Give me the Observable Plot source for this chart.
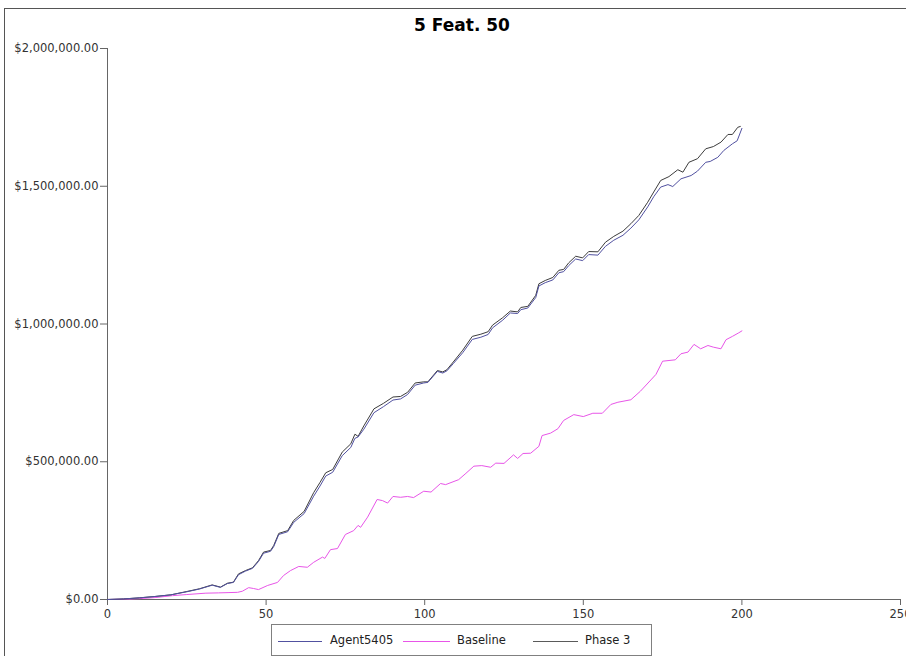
<!DOCTYPE html>
<html>
<head>
<meta charset="utf-8">
<script src="https://cdn.jsdelivr.net/npm/d3@7"></script>
<script src="https://cdn.jsdelivr.net/npm/@observablehq/plot@0.6"></script>
<style>
  html, body { margin: 0; padding: 0; background: #fff; }
  #wrap { position: relative; width: 906px; height: 656px; overflow: hidden; font-family: "DejaVu Sans", sans-serif; }
  #frame { position: absolute; left: 4px; top: 8px; width: 2000px; height: 2000px; border-left: 1px solid #555; border-top: 1px solid #555; }
  #title { position: absolute; left: 0; top: 15px; width: 924px; text-align: center; font: bold 17px "DejaVu Sans", sans-serif; color: #000; }
  #chart { position: absolute; left: 0; top: 0; }
  #legend { position: absolute; left: 271px; top: 624px; width: 379px; height: 30px; border: 1px solid #808080; background: #fff; font: 11.5px "DejaVu Sans", sans-serif; color: #222; }
  .lg-line { position: absolute; top: 16px; height: 0; border-top: 1px solid; }
  .lg-text { position: absolute; top: 8px; line-height: 14px; }
</style>
</head>
<body>
<div id="wrap">
  <div id="frame"></div>
  <div id="chart"></div>
  <div id="title">5 Feat. 50</div>
  <div id="legend"></div>
</div>
<script>
// ---- Data (values in thousands of dollars) ----
const seriesNames = ["Agent5405", "Baseline", "Phase 3"];
const seriesColors = ["#5151a0", "#e855e8", "#3c3c3c"];
const legendColors = ["#5151a0", "#e855e8", "#5a5a5a"];

const agentX = [0,5,10,15,20,25,29,33,35.6,37.8,39.7,41.3,43.5,45.7,47.6,49.2,51.4,52.4,54,56.8,58.7,62,65,67,68.8,71,74,76.7,78,79,80.8,84,87,90,92.4,94.6,97,99.7,101,104,105.7,107,109,112,115,117.7,120,121.4,124.6,127,129.3,130.3,132.5,135,136,138,140.4,142.3,143.8,145.4,147.6,149.8,151.7,154.6,157,159.6,162.5,165,167.5,170.3,172.2,174.4,176.7,178.2,180.8,184,186,188.6,190,192.4,194.3,197,198.5,200];
const agentY = [0,2,6,11,17,28,38,52,44,58,62,90,103,113,138,168,175,192,236,246,280,312,375,412,448,462,522,552,585,590,618,678,700,724,728,744,778,786,788,828,822,830,856,896,944,952,962,986,1014,1040,1038,1052,1058,1096,1138,1150,1160,1186,1190,1212,1236,1230,1252,1250,1282,1304,1322,1348,1378,1425,1462,1497,1506,1499,1527,1539,1555,1587,1590,1605,1630,1654,1665,1710];

const baselineX = [0,5,10,15,20.5,25,31,35,38,41,42.5,44.5,46,47.6,50.5,53.6,55.5,57.7,60.3,63,65,67.8,68.5,70.3,72.5,75,77.6,79,79.8,82,85,86.7,88.3,90,92.4,94.6,96.5,99.7,102,105,106.6,110.7,113,115.5,118,120.8,122.4,125,128,129.3,131,133.4,136,137,139.7,142,143.8,147,150,153,156,158.7,160.9,165,168,171.3,172.9,175,179,180.8,183,184.9,187,189.3,191,193.4,195,197,199,200];
const baselineY = [0,1,3,7,14,18,23,24,25,26,30,43,40,36,51,62,87,105,120,117,135,154,149,181,185,236,250,269,262,299,363,359,350,374,371,374,370,393,390,421,417,435,458,484,486,480,495,494,525,512,530,531,556,595,604,620,650,671,664,676,676,708,716,725,756,797,817,865,870,892,898,926,910,922,916,910,943,955,968,975];

const phase3X = [0,5,10,15,20,25,29,33,35.6,37.8,39.7,41.3,43.5,45.7,47.6,49.2,51.4,52.4,54,56.8,58.7,62,65,67,68.8,71,74,76.7,78,79,80.8,84,87,90,92.4,94.6,97,99.7,101,104,105.7,107,109,112,115,117.7,120,121.4,124.6,127,129.3,130.3,132.5,135,136,138,140.4,142.3,143.8,145.4,147.6,149.8,151.7,154.6,157,159.6,162.5,165,167.5,170.3,172.2,174.4,177,179.8,181.4,183.3,186,188.6,191,193.4,195.6,197,198.7,199.5];
const phase3Y = [0,2,6,11,17,29,39,53,45,59,63,93,105,115,141,172,178,196,240,250,287,320,388,425,460,472,535,565,600,592,630,692,712,735,737,752,786,790,790,831,826,834,862,905,955,963,972,996,1023,1047,1044,1060,1064,1104,1146,1158,1169,1195,1198,1222,1246,1240,1263,1262,1297,1318,1337,1364,1394,1442,1479,1521,1535,1560,1551,1587,1600,1636,1644,1660,1688,1688,1714,1717];

const xTicks = [0, 50, 100, 150, 200, 250];
const yTicks = [0, 500000, 1000000, 1500000, 2000000];

// ---- Build table ----
const rows = [];
const addSeries = (name, xs, ys) => xs.forEach((x, i) => rows.push({series: name, step: x, value: ys[i] * 1000}));
addSeries("Baseline", baselineX, baselineY);
addSeries("Phase 3", phase3X, phase3Y);
addSeries("Agent5405", agentX, agentY);

const fmt = d3.format("$,.2f");

const chart = Plot.plot({
  width: 906,
  height: 620,
  marginLeft: 107,
  marginRight: 6,
  marginTop: 48,
  marginBottom: 21,
  style: { background: "transparent", fontFamily: "DejaVu Sans, sans-serif", fontSize: "11.5px", color: "#333" },
  x: { domain: [0, 250] },
  y: { domain: [0, 2000000] },
  color: { domain: seriesNames, range: seriesColors },
  marks: [
    Plot.ruleY([0], { stroke: "#666" }),
    Plot.ruleX([0], { stroke: "#666" }),
    Plot.axisX({ ticks: xTicks, tickSize: 6, tickPadding: 4, stroke: "#666", label: null, fill: "#333", fontSize: 11.5 }),
    Plot.axisY({ ticks: yTicks, tickSize: 7, tickPadding: 2, stroke: "#666", tickFormat: fmt, label: null, fill: "#333", fontSize: 11.5 }),
    Plot.line(rows, { x: "step", y: "value", z: "series", stroke: "series", strokeWidth: 1, curve: "linear" })
  ]
});
document.getElementById("chart").appendChild(chart);

// ---- Legend ----
const legend = document.getElementById("legend");
const legendLayout = [
  { line: 6, w: 44, text: 58 },
  { line: 131, w: 47, text: 185 },
  { line: 261, w: 45, text: 313 }
];
seriesNames.forEach((name, i) => {
  const l = document.createElement("div");
  l.className = "lg-line";
  l.style.left = legendLayout[i].line + "px";
  l.style.width = legendLayout[i].w + "px";
  l.style.borderTopColor = legendColors[i];
  legend.appendChild(l);
  const t = document.createElement("div");
  t.className = "lg-text";
  t.style.left = legendLayout[i].text + "px";
  t.textContent = name;
  legend.appendChild(t);
});
</script>
</body>
</html>
